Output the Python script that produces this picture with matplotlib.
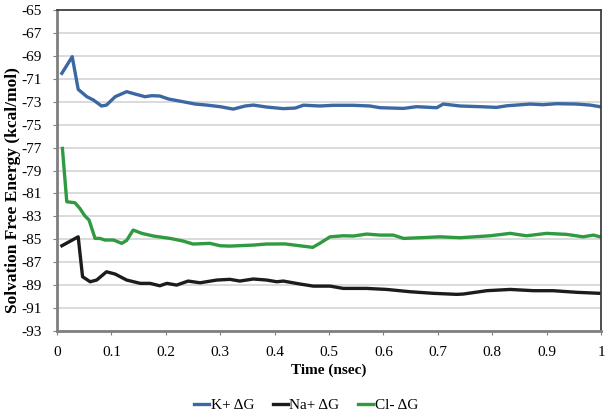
import matplotlib
matplotlib.use("Agg")
import matplotlib.pyplot as plt

plt.rcParams["font.family"] = ["Liberation Serif", "DejaVu Serif"]

# K+ solvation free energy
k_time = [0.009, 0.028, 0.039, 0.055, 0.067, 0.082, 0.091, 0.107, 0.128, 0.146,
          0.162, 0.174, 0.189, 0.205, 0.232, 0.254, 0.275, 0.30, 0.324, 0.346,
          0.361, 0.385, 0.416, 0.438, 0.453, 0.483, 0.508, 0.545, 0.575, 0.594,
          0.637, 0.661, 0.698, 0.71, 0.741, 0.778, 0.808, 0.827, 0.87, 0.893,
          0.918, 0.955, 0.98, 0.998]
k_dg = [-70.52, -69.07, -71.92, -72.56, -72.85, -73.37, -73.29, -72.56, -72.12, -72.36,
        -72.56, -72.47, -72.5, -72.76, -73.0, -73.2, -73.29, -73.43, -73.64, -73.37,
        -73.29, -73.46, -73.6, -73.55, -73.3, -73.37, -73.31, -73.31, -73.37, -73.52,
        -73.58, -73.43, -73.52, -73.2, -73.37, -73.43, -73.49, -73.35, -73.2, -73.26,
        -73.17, -73.2, -73.29, -73.43]

# Na+
na_time = [0.009, 0.039, 0.047, 0.061, 0.073, 0.091, 0.107, 0.128, 0.153, 0.171,
           0.189, 0.202, 0.22, 0.241, 0.263, 0.294, 0.318, 0.336, 0.361, 0.385,
           0.404, 0.416, 0.447, 0.471, 0.502, 0.526, 0.569, 0.606, 0.649, 0.692,
           0.735, 0.747, 0.79, 0.833, 0.876, 0.912, 0.955, 0.998]
na_dg = [-85.56, -84.78, -88.26, -88.7, -88.55, -87.83, -88.03, -88.55, -88.84, -88.84,
         -89.05, -88.84, -88.99, -88.64, -88.79, -88.55, -88.49, -88.64, -88.46, -88.55,
         -88.7, -88.64, -88.9, -89.08, -89.08, -89.28, -89.28, -89.37, -89.57, -89.71,
         -89.8, -89.77, -89.48, -89.37, -89.48, -89.48, -89.62, -89.71]

# Cl-
cl_time = [0.01, 0.018, 0.033, 0.042, 0.051, 0.059, 0.07, 0.079, 0.088, 0.104,
           0.119, 0.128, 0.14, 0.156, 0.177, 0.208, 0.232, 0.25, 0.281, 0.30,
           0.318, 0.361, 0.385, 0.419, 0.47, 0.483, 0.502, 0.526, 0.545, 0.569,
           0.594, 0.618, 0.637, 0.667, 0.704, 0.741, 0.796, 0.833, 0.863, 0.9,
           0.937, 0.967, 0.986, 0.998]
cl_dg = [-77.07, -81.72, -81.81, -82.3, -82.94, -83.32, -84.92, -84.92, -85.06, -85.06,
         -85.35, -85.1, -84.19, -84.48, -84.71, -84.92, -85.15, -85.41, -85.35, -85.56,
         -85.59, -85.5, -85.41, -85.4, -85.7, -85.35, -84.78, -84.69, -84.71, -84.54,
         -84.63, -84.63, -84.92, -84.86, -84.78, -84.86, -84.69, -84.48, -84.69, -84.48,
         -84.57, -84.78, -84.63, -84.78]

x_ticks = [0, 0.1, 0.2, 0.3, 0.4, 0.5, 0.6, 0.7, 0.8, 0.9, 1]
x_labels = ["0", "0.1", "0.2", "0.3", "0.4", "0.5", "0.6", "0.7", "0.8", "0.9", "1"]
y_ticks = list(range(-93, -64, 2))

fig = plt.figure(figsize=(6.12, 4.18), dpi=100)
ax = fig.add_axes([0.0931, 0.208, 0.889, 0.768])

ax.plot(k_time, k_dg, color="#3B67A3", lw=2.4, label="K+ \u0394G")
ax.plot(na_time, na_dg, color="#1C1C1C", lw=2.4, label="Na+ \u0394G")
ax.plot(cl_time, cl_dg, color="#2F9A40", lw=2.4, label="Cl- \u0394G")

ax.set_xlim(0, 1)
ax.set_ylim(-93, -65)
ax.set_xticks(x_ticks)
ax.set_xticklabels(x_labels)
ax.set_yticks(y_ticks)
ax.set_yticklabels([str(v) for v in y_ticks])
ax.grid(axis="y", color="#D4D4D4", lw=1.2)
ax.set_axisbelow(True)

for side in ["left", "bottom"]:
    ax.spines[side].set_color("#7F7F7F")
    ax.spines[side].set_linewidth(2.0)
for side in ["top", "right"]:
    ax.spines[side].set_color("#404040")
    ax.spines[side].set_linewidth(1.3)

ax.tick_params(axis="both", labelsize=11, length=3, color="#7F7F7F", pad=8)
ax.set_xlabel("Time (nsec)", fontsize=11, fontweight="bold", labelpad=3)
ax.set_ylabel("Solvation Free Energy (kcal/mol)", fontsize=12.5, fontweight="bold")
ax.yaxis.set_label_coords(-0.066, 0.44)

fig.legend(*ax.get_legend_handles_labels(), loc="center", bbox_to_anchor=(0.5, 0.031),
           ncol=3, frameon=False, fontsize=11, handlelength=1.0, handletextpad=0.1,
           columnspacing=1.2)

fig.savefig("out.png", dpi=100, facecolor="white")
